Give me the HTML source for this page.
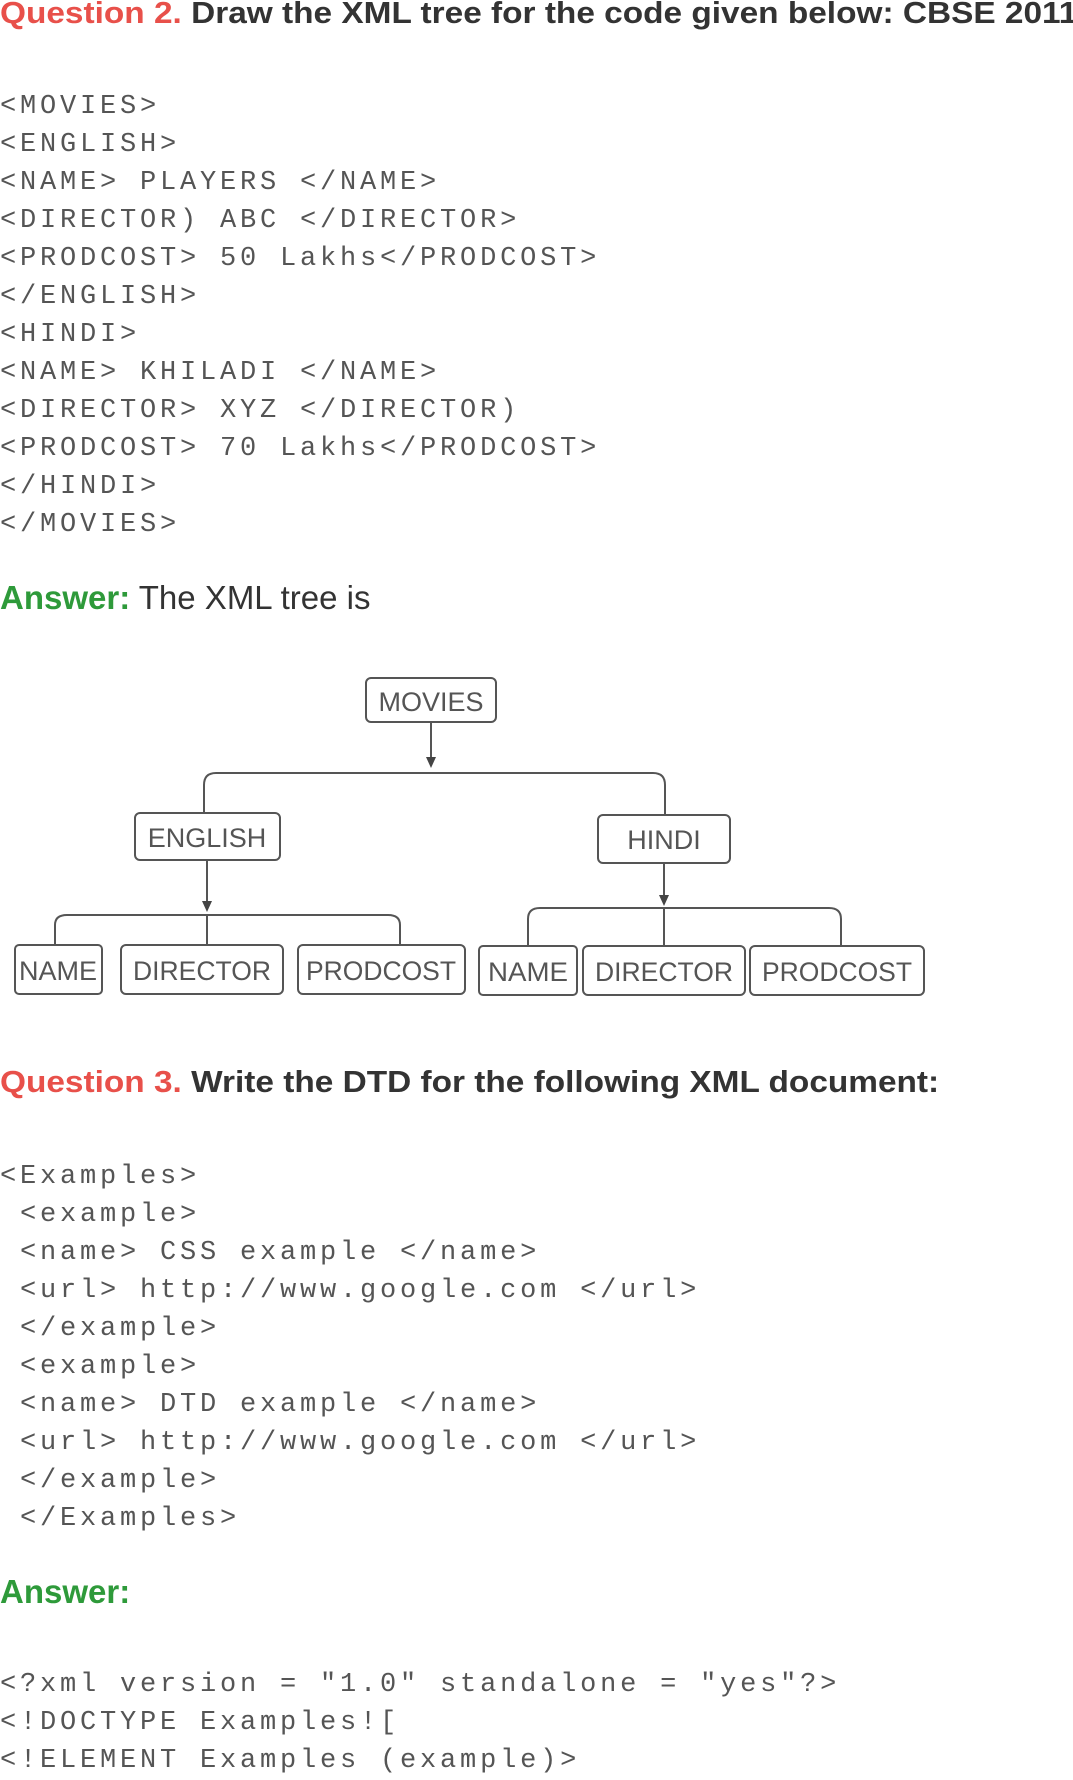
<!DOCTYPE html>
<html><head><meta charset="utf-8"><style>
html,body{margin:0;padding:0;background:#fff;}
body{width:1073px;height:1775px;position:relative;overflow:hidden;font-family:"Liberation Sans",sans-serif;}
.h{position:absolute;left:0;white-space:nowrap;font-weight:bold;font-size:31px;color:#333;line-height:36px;transform:scaleX(1.077);transform-origin:0 0;}
.red{color:#e8504a;}
.grn{color:#2e9a3a;}
.c{position:absolute;left:0;white-space:pre;font-family:"Liberation Mono",monospace;font-size:27px;letter-spacing:3.8px;color:#555;line-height:38px;}
.a{position:absolute;left:0;white-space:nowrap;font-size:33px;color:#333;line-height:38px;}
</style></head><body>
<div class="h" style="top:-5px;"><span class="red">Question 2.</span> Draw the XML tree for the code given below: CBSE 2011</div>

<div class="c" style="top:88px">&lt;MOVIES&gt;
&lt;ENGLISH&gt;
&lt;NAME&gt; PLAYERS &lt;/NAME&gt;
&lt;DIRECTOR) ABC &lt;/DIRECTOR&gt;
&lt;PRODCOST&gt; 50 Lakhs&lt;/PRODCOST&gt;
&lt;/ENGLISH&gt;
&lt;HINDI&gt;
&lt;NAME&gt; KHILADI &lt;/NAME&gt;
&lt;DIRECTOR&gt; XYZ &lt;/DIRECTOR)
&lt;PRODCOST&gt; 70 Lakhs&lt;/PRODCOST&gt;
&lt;/HINDI&gt;
&lt;/MOVIES&gt;</div>

<div class="a" style="top:579px;"><b class="grn">Answer:</b> The XML tree is</div>

<svg style="position:absolute;left:0;top:0" width="1073" height="1775">
<g fill="none" stroke="#555" stroke-width="2">
<rect x="366" y="678" width="130" height="44" rx="5"/>
<rect x="135" y="813" width="145" height="47" rx="5"/>
<rect x="598" y="815" width="132" height="48" rx="5"/>
<rect x="15" y="945" width="87" height="49" rx="4"/>
<rect x="121" y="945" width="162" height="49" rx="5"/>
<rect x="298" y="945" width="167" height="49" rx="5"/>
<rect x="479" y="946" width="98" height="49" rx="4"/>
<rect x="583" y="946" width="162" height="49" rx="5"/>
<rect x="750" y="946" width="174" height="49" rx="5"/>
<line x1="431" y1="722" x2="431" y2="760"/>
<path d="M204,813 V785 Q204,773 216,773 H653 Q665,773 665,785 V815"/>
<line x1="207" y1="860" x2="207" y2="905"/>
<path d="M55,945 V925 Q55,915 67,915 H388 Q400,915 400,925 V945"/>
<line x1="207" y1="915" x2="207" y2="945"/>
<line x1="664" y1="863" x2="664" y2="898"/>
<path d="M528,946 V919 Q528,908 540,908 H829 Q841,908 841,919 V946"/>
<line x1="664" y1="908" x2="664" y2="946"/>
</g>
<g fill="#444">
<path d="M426,757 L436,757 L431,768 Z"/>
<path d="M202,901 L212,901 L207,912 Z"/>
<path d="M659,895 L669,895 L664,906 Z"/>
</g>
<g font-family="Liberation Sans, sans-serif" font-size="27" fill="#555" text-anchor="middle">
<text x="431" y="711">MOVIES</text>
<text x="207" y="847">ENGLISH</text>
<text x="664" y="849">HINDI</text>
<text x="58" y="980" textLength="78" lengthAdjust="spacingAndGlyphs">NAME</text>
<text x="202" y="980" textLength="138" lengthAdjust="spacingAndGlyphs">DIRECTOR</text>
<text x="381" y="980" textLength="150" lengthAdjust="spacingAndGlyphs">PRODCOST</text>
<text x="528" y="981" textLength="80" lengthAdjust="spacingAndGlyphs">NAME</text>
<text x="664" y="981" textLength="138" lengthAdjust="spacingAndGlyphs">DIRECTOR</text>
<text x="837" y="981" textLength="150" lengthAdjust="spacingAndGlyphs">PRODCOST</text>
</g>
</svg>

<div class="h" style="top:1064px;"><span class="red">Question 3.</span> Write the DTD for the following XML document:</div>

<div class="c" style="top:1158px">&lt;Examples&gt;
 &lt;example&gt;
 &lt;name&gt; CSS example &lt;/name&gt;
 &lt;url&gt; http://www.google.com &lt;/url&gt;
 &lt;/example&gt;
 &lt;example&gt;
 &lt;name&gt; DTD example &lt;/name&gt;
 &lt;url&gt; http://www.google.com &lt;/url&gt;
 &lt;/example&gt;
 &lt;/Examples&gt;</div>

<div class="a" style="top:1573px;"><b class="grn">Answer:</b></div>

<div class="c" style="top:1666px">&lt;?xml version = "1.0" standalone = "yes"?&gt;
&lt;!DOCTYPE Examples![
&lt;!ELEMENT Examples (example)&gt;</div>
</body></html>
